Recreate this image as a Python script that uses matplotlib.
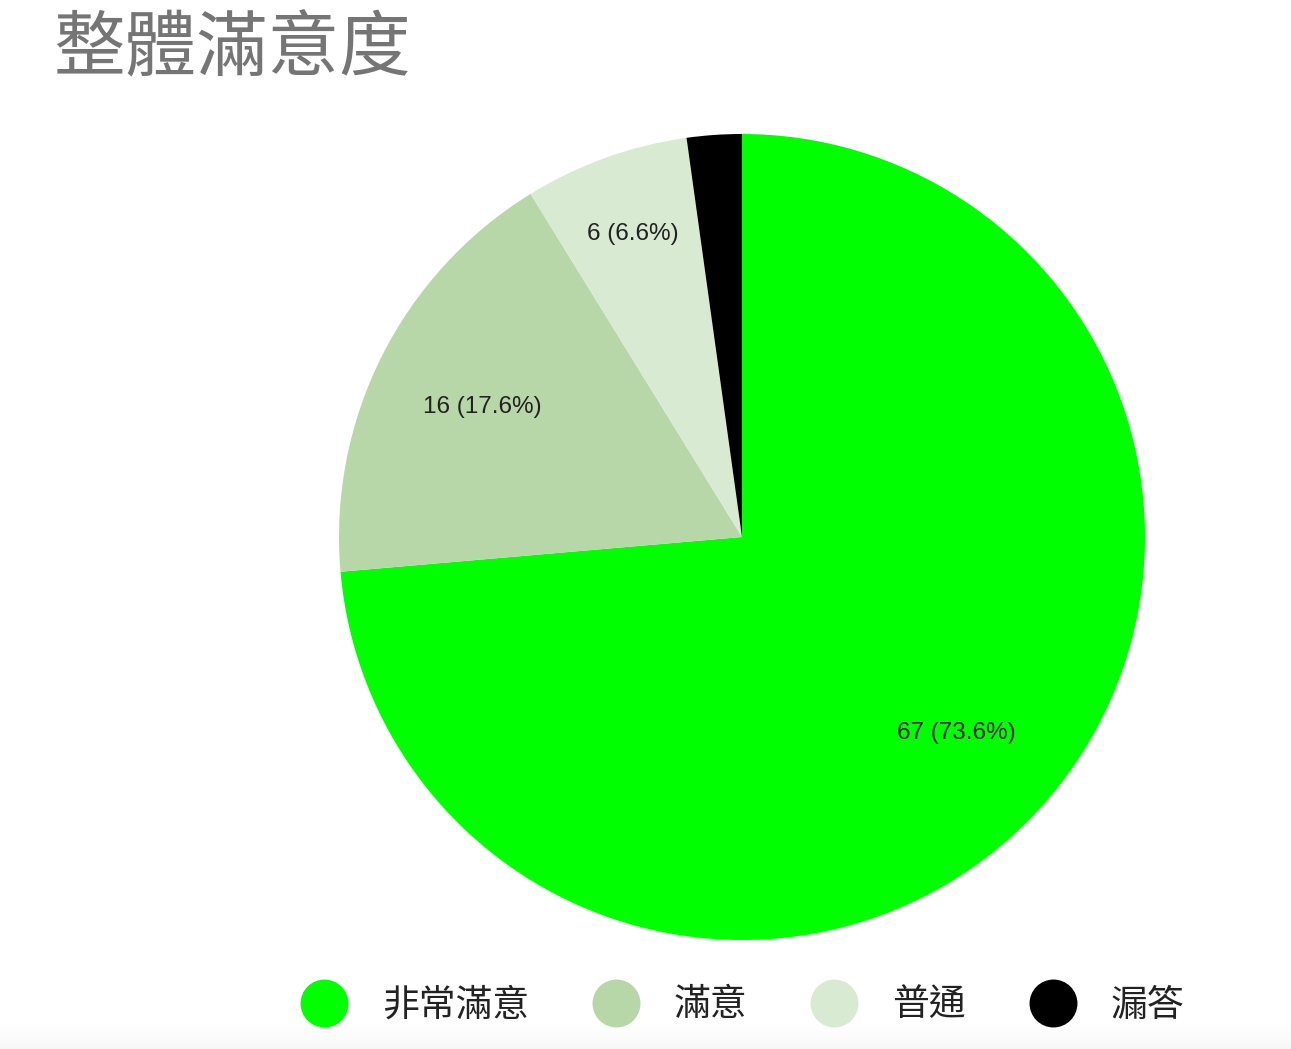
#coding:utf8
import matplotlib
matplotlib.use('Agg')
import matplotlib.pyplot as plt
from matplotlib.lines import Line2D
import numpy as np

# 資料
categories = ['非常滿意', '滿意', '普通', '漏答']
counts = [67, 16, 6, 2]
colors = ['#00ff00', '#b7d7a8', '#d9ead3', '#000000']
title = '整體滿意度'

W, H = 1291, 1049
fig = plt.figure(figsize=(W / 100, H / 100), dpi=100)
fig.patch.set_facecolor('white')

# 圓餅圖位置 (像素)
cx, cy, r = 742, 537, 403
ax = fig.add_axes([(cx - r) / W, (H - cy - r) / H, 2 * r / W, 2 * r / H])
wedges, _ = ax.pie(counts, colors=colors, startangle=90, counterclock=False,
                   radius=1, wedgeprops=dict(linewidth=0))
ax.set_xlim(-1, 1)
ax.set_ylim(-1, 1)
ax.set_aspect('equal')
ax.axis('off')

# 標籤
total = sum(counts)
label_r = [0.72, 0.72, 0.80, None]
for w, c, lr in zip(wedges, counts, label_r):
    if lr is None:
        continue
    ang = np.deg2rad((w.theta1 + w.theta2) / 2)
    ax.text(lr * np.cos(ang), lr * np.sin(ang), '%d (%.1f%%)' % (c, 100.0 * c / total),
            ha='center', va='center', fontsize=17.5, color='#222222',
            family=['Liberation Sans', 'DejaVu Sans'])

# 標題
fig.text(53 / W, 1 - 50 / H, title, fontsize=51.5, color='#757575',
         family=['Noto Sans CJK TC', 'DejaVu Sans'], ha='left', va='center')

# 圖例
handles = [Line2D([0], [0], marker='o', linestyle='none', markersize=34.5,
                  markerfacecolor=col, markeredgewidth=0) for col in colors]
leg = fig.legend(handles, categories, loc='center', ncol=4,
                 bbox_to_anchor=(742 / W, 1 - 1005 / H), frameon=False,
                 prop={'family': ['Noto Sans CJK TC', 'DejaVu Sans'], 'size': 26.5},
                 handlelength=1.3, handletextpad=0.92, columnspacing=1.72,
                 borderpad=0)
for t in leg.get_texts():
    t.set_color('#222222')

# 底部淡灰漸層
gax = fig.add_axes([0, 0, 1, 30 / H])
grad = np.linspace(0.0, 1.0, 60).reshape(-1, 1) ** 2
gax.imshow(grad, aspect='auto', cmap='Greys', vmin=0, vmax=14, extent=[0, 1, 0, 1])
gax.axis('off')

fig.savefig('out.png', dpi=100)
